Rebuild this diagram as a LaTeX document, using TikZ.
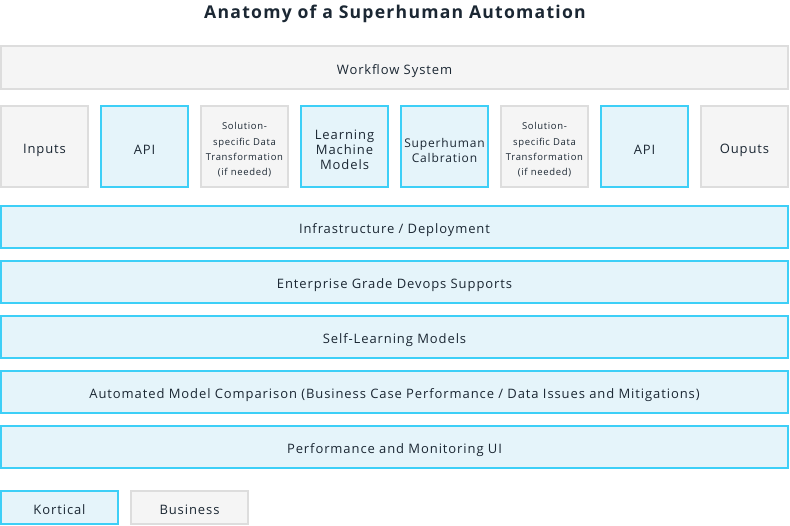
\documentclass[tikz,border=0pt]{standalone}
\usepackage{fontspec}
\setmainfont{Open Sans}[LetterSpace=7]
\begin{document}
\begin{tikzpicture}[x=1pt,y=-1pt,
  base/.style={draw, line width=2pt, inner sep=0pt, outer sep=0pt, anchor=north west},
  kort/.style={base, draw=kb, fill=kf},
  biz/.style={base, draw=gb, fill=gf},
  lbl/.style={inner sep=0pt, yshift=-3.5pt, align=center, text=txt, font=\fontsize{13}{15}\selectfont},
  small/.style={lbl, font=\fontsize{9.5}{15.3}\selectfont},
  cell/.style={minimum width=87pt, minimum height=81pt},
  bar/.style={minimum width=787pt, minimum height=42pt}]
\definecolor{kb}{HTML}{3DCFF7}
\definecolor{kf}{HTML}{E5F4FA}
\definecolor{gb}{HTML}{DDDDDD}
\definecolor{gf}{HTML}{F5F5F5}
\definecolor{txt}{HTML}{1B2733}
\useasboundingbox (0,0) rectangle (790,525);
\node[text=txt, font=\fontsize{17.6}{20}\selectfont\bfseries] (title) at (395,13.5) {Anatomy of a Superhuman Automation};
\node[biz, minimum width=787pt, minimum height=43pt] (wf) at (1,46) {};
\node[lbl] (wf-t) at (wf.center) {Workflow System};
\node[biz, cell] (in) at (1,106) {};
\node[lbl] (in-t) at (in.center) {Inputs};
\node[kort, cell] (api1) at (101,106) {};
\node[lbl] (api1-t) at (api1.center) {API};
\node[biz, cell] (sol1) at (201,106) {};
\node[small] (sol1-t) at (sol1.center) {Solution-\\specific Data\\Transformation\\(if needed)};
\node[kort, cell] (lmm) at (301,106) {};
\node[lbl] (lmm-t) at (lmm.center) {Learning\\Machine\\Models};
\node[kort, cell] (sup) at (401,106) {};
\node[lbl, font=\fontsize{12}{15}\selectfont] (sup-t) at (sup.center) {Superhuman\\Calbration};
\node[biz, cell] (sol2) at (501,106) {};
\node[small] (sol2-t) at (sol2.center) {Solution-\\specific Data\\Transformation\\(if needed)};
\node[kort, cell] (api2) at (601,106) {};
\node[lbl] (api2-t) at (api2.center) {API};
\node[biz, cell] (out) at (701,106) {};
\node[lbl] (out-t) at (out.center) {Ouputs};
\node[kort, bar] (infra) at (1,206) {};
\node[lbl] (infra-t) at (infra.center) {Infrastructure / Deployment};
\node[kort, bar] (ent) at (1,261) {};
\node[lbl] (ent-t) at (ent.center) {Enterprise Grade Devops Supports};
\node[kort, bar] (self) at (1,316) {};
\node[lbl] (self-t) at (self.center) {Self-Learning Models};
\node[kort, bar] (amc) at (1,371) {};
\node[lbl] (amc-t) at (amc.center) {Automated Model Comparison (Business Case Performance / Data Issues and Mitigations)};
\node[kort, bar] (perf) at (1,426) {};
\node[lbl] (perf-t) at (perf.center) {Performance and Monitoring UI};
\node[kort, minimum width=117pt, minimum height=33pt] (lk) at (1,491) {};
\node[lbl, yshift=1.5pt] (lk-t) at (lk.center) {Kortical};
\node[biz, minimum width=117pt, minimum height=33pt] (lb) at (131,491) {};
\node[lbl, yshift=1.5pt] (lb-t) at (lb.center) {Business};
\end{tikzpicture}
\end{document}
